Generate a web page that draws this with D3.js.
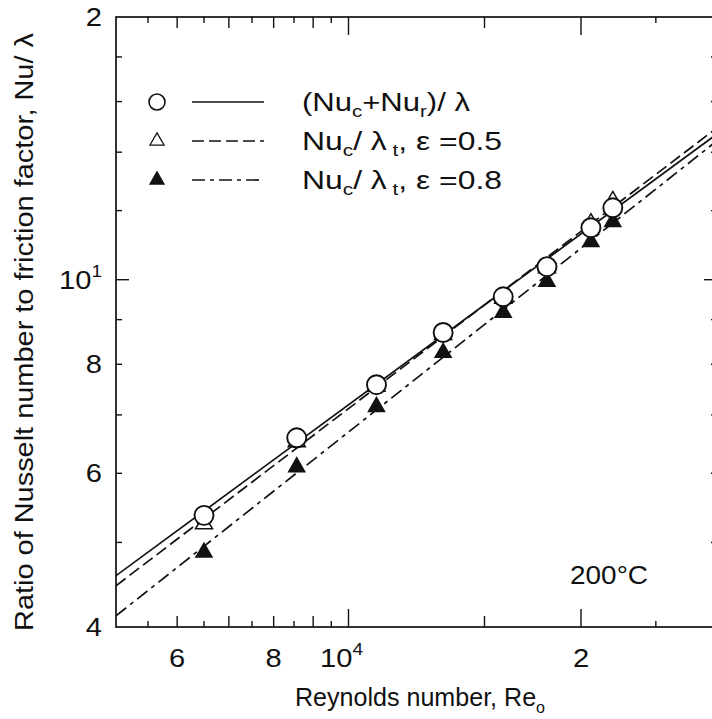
<!DOCTYPE html>
<html>
<head>
<meta charset="utf-8">
<script src="https://cdn.jsdelivr.net/npm/d3@7"></script>
<style>
  body { margin: 0; background: #fff; }
  text { font-family: "Liberation Sans", Arial, Helvetica, sans-serif; fill: #111; }
</style>
</head>
<body>
<div id="root"></div>
<script>
// Reynolds number of each run
const reynolds = [6500, 8570, 10870, 13260, 15860, 18070, 20600, 21990];
// (Nu_c + Nu_r) / lambda  (open circles)
const nuTotal = [5.37, 6.59, 7.58, 8.70, 9.56, 10.35, 11.47, 12.09];
// Nu_c / lambda_t, eps = 0.5  (open triangles)
const nuEps05 = [5.25, 6.52, 7.55, 8.65, 9.52, 10.32, 11.6, 12.3];
// Nu_c / lambda_t, eps = 0.8  (filled triangles)
const nuEps08 = [4.87, 6.10, 7.15, 8.25, 9.17, 9.95, 11.05, 11.65];

// fitted lines, end values at Re = 5000 and 30000
const fitRe = [5000, 30000];
const fitTotal = [4.58, 14.69];
const fitEps05 = [4.46, 14.93];
const fitEps08 = [4.12, 14.43];

// axis ticks
const xTicks = [5500, 6000, 6500, 7000, 7500, 8000, 8500, 9000, 9500, 10000, 15000, 20000, 25000];
const xMajor = [10000, 20000];
const xMedium = [6000, 7000, 8000, 9000, 15000];
const xLabels = [[6000, "6"], [8000, "8"], [10000, "10", "4"], [20000, "2"]];
const yTicks = [5, 6, 7, 8, 9, 10, 12, 14, 16, 18];
const yMajor = [10];
const yLabels = [[4, "4"], [6, "6"], [8, "8"], [10, "10", "1"], [20, "2"]];

const W = 712, H = 719;
const m = { left: 116, top: 17, right: 717, bottom: 627 };
const FS = 26, SUB = 17;

let svg = d3.select("#root").append("svg").attr("width", W).attr("height", H);

let x = d3.scaleLog().domain([5000, 30000]).range([m.left, m.right]);
let y = d3.scaleLog().domain([4, 20]).range([m.bottom, m.top]);

// scanned lettering is a little wider than Liberation Sans
let stretch = (t, k, len) => {
  let L = len || t.node().getComputedTextLength() * k;
  t.attr("textLength", L).attr("lengthAdjust", "spacingAndGlyphs");
  return t;
};

// frame
svg.append("rect")
  .attr("x", m.left).attr("y", m.top)
  .attr("width", m.right - m.left).attr("height", m.bottom - m.top)
  .attr("fill", "none").attr("stroke", "#111").attr("stroke-width", 1.7);

let xLen = d => xMajor.includes(d) ? 18 : xMedium.includes(d) ? 11 : 6;
let yLen = d => yMajor.includes(d) ? 13 : 6;

// ticks on all four sides, pointing inward
let tk = svg.append("g").attr("stroke", "#111").attr("stroke-width", 1.4);
xTicks.forEach(d => {
  tk.append("line").attr("x1", x(d)).attr("x2", x(d)).attr("y1", m.bottom).attr("y2", m.bottom - xLen(d));
  tk.append("line").attr("x1", x(d)).attr("x2", x(d)).attr("y1", m.top).attr("y2", m.top + xLen(d));
});
yTicks.forEach(d => {
  tk.append("line").attr("x1", m.left).attr("x2", m.left + yLen(d)).attr("y1", y(d)).attr("y2", y(d));
  tk.append("line").attr("x1", m.right).attr("x2", m.right - yLen(d)).attr("y1", y(d)).attr("y2", y(d));
});

// tick labels
xLabels.forEach(l => {
  let t = svg.append("text").attr("x", x(l[0])).attr("y", 667)
    .attr("text-anchor", "middle").attr("font-size", FS).text(l[1]);
  if (l[2]) {
    t.attr("x", x(l[0]) - 7);
    t.append("tspan").attr("dy", -12).attr("font-size", SUB).text(l[2]);
  }
  stretch(t, 1.12);
});
yLabels.forEach(l => {
  let t = svg.append("text").attr("x", 102).attr("y", y(l[0]) + 9)
    .attr("text-anchor", "end").attr("font-size", FS).text(l[1]);
  if (l[2]) {
    t.append("tspan").attr("dy", -12).attr("font-size", SUB).text(l[2]);
  }
  stretch(t, 1.12);
});

// axis titles
let xt = svg.append("text").attr("x", 420).attr("y", 706)
  .attr("text-anchor", "middle").attr("font-size", 25).text("Reynolds number, Re");
xt.append("tspan").attr("dy", 7).attr("font-size", 16).text("o");
stretch(xt, 1, 250);

let yt = svg.append("text")
  .attr("transform", "translate(33,332) rotate(-90)")
  .attr("text-anchor", "middle").attr("font-size", 25)
  .text("Ratio of Nusselt number to friction factor, Nu/ \u03bb");
stretch(yt, 1, 598);

// plot area clip
svg.append("defs").append("clipPath").attr("id", "clip")
  .append("rect").attr("x", m.left).attr("y", m.top)
  .attr("width", m.right - m.left).attr("height", m.bottom - m.top);
let plot = svg.append("g").attr("clip-path", "url(#clip)");

let line = d3.line().x(d => x(d[0])).y(d => y(d[1]));
let styles = [
  { vals: fitTotal, dash: null },
  { vals: fitEps05, dash: "12,5" },
  { vals: fitEps08, dash: "13,5,4,5" }
];
styles.forEach(s => {
  plot.append("path")
    .datum(fitRe.map((r, i) => [r, s.vals[i]]))
    .attr("d", line)
    .attr("fill", "none").attr("stroke", "#111").attr("stroke-width", 1.7)
    .attr("stroke-dasharray", s.dash);
});

let tri = d3.symbol().type(d3.symbolTriangle).size(125);
let triF = d3.symbol().type(d3.symbolTriangle).size(150);

plot.selectAll(".f").data(reynolds).enter().append("path")
  .attr("transform", (d, i) => `translate(${x(d)},${y(nuEps08[i])})`)
  .attr("d", triF).attr("fill", "#111");
plot.selectAll(".o").data(reynolds).enter().append("path")
  .attr("transform", (d, i) => `translate(${x(d)},${y(nuEps05[i])})`)
  .attr("d", tri).attr("fill", "#fff").attr("stroke", "#111").attr("stroke-width", 1.5);
plot.selectAll(".c").data(reynolds).enter().append("circle")
  .attr("cx", d => x(d)).attr("cy", (d, i) => y(nuTotal[i])).attr("r", 9.5)
  .attr("fill", "#fff").attr("stroke", "#111").attr("stroke-width", 1.9);

// legend
let lg = svg.append("g");
let rows = [
  { y: 102, sym: "c", dash: null },
  { y: 141, sym: "o", dash: "12,5" },
  { y: 180, sym: "f", dash: "13,5,4,5" }
];
rows.forEach(r => {
  if (r.sym === "c") {
    lg.append("circle").attr("cx", 157).attr("cy", r.y).attr("r", 8)
      .attr("fill", "#fff").attr("stroke", "#111").attr("stroke-width", 1.6);
  } else {
    lg.append("path").attr("transform", `translate(157,${r.y})`)
      .attr("d", d3.symbol().type(d3.symbolTriangle).size(85))
      .attr("fill", r.sym === "f" ? "#111" : "#fff").attr("stroke", "#111").attr("stroke-width", 1.3);
  }
  lg.append("line").attr("x1", 192).attr("x2", 264).attr("y1", r.y).attr("y2", r.y)
    .attr("stroke", "#111").attr("stroke-width", 1.7).attr("stroke-dasharray", r.dash);
});
let t1 = lg.append("text").attr("x", 302).attr("y", 111).attr("font-size", FS);
t1.append("tspan").text("(Nu");
t1.append("tspan").attr("dy", 6).attr("font-size", SUB).text("c");
t1.append("tspan").attr("dy", -6).text("+Nu");
t1.append("tspan").attr("dy", 6).attr("font-size", SUB).text("r");
t1.append("tspan").attr("dy", -6).text(")/ \u03bb");
stretch(t1, 1, 168);
[[150, "0.5"], [189, "0.8"]].forEach(e => {
  let t = lg.append("text").attr("x", 302).attr("y", e[0]).attr("font-size", FS);
  t.append("tspan").text("Nu");
  t.append("tspan").attr("dy", 6).attr("font-size", SUB).text("c");
  t.append("tspan").attr("dy", -6).text("/ \u03bb");
  t.append("tspan").attr("dy", 6).attr("font-size", SUB).text(" t");
  t.append("tspan").attr("dy", -6).text(",  \u03b5 =" + e[1]);
  stretch(t, 1, 200);
});

let ct = svg.append("text").attr("x", 570).attr("y", 584).attr("font-size", FS).text("200\u00b0C");
stretch(ct, 1, 78);
</script>
</body>
</html>
